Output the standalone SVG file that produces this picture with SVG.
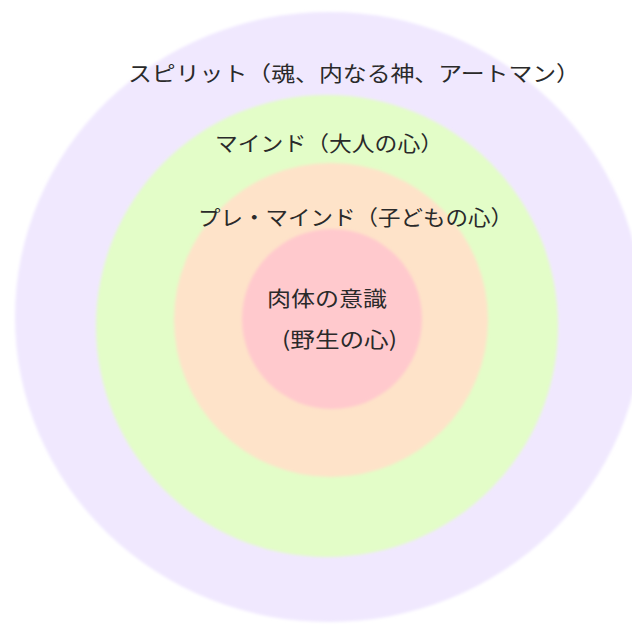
<svg xmlns="http://www.w3.org/2000/svg" width="632" height="625" viewBox="0 0 632 625">
  <defs>
    <filter id="soft" x="-5%" y="-5%" width="110%" height="110%">
      <feGaussianBlur stdDeviation="1.5"/>
    </filter>
  </defs>
  <style>
    .lbl { font-family: "Noto Sans CJK JP", "Noto Sans CJK SC", sans-serif; font-size: 21px; fill: #2a2a2a; }
  </style>
  <rect x="0" y="0" width="632" height="625" fill="#ffffff"/>
  <g id="spirit">
    <ellipse cx="329" cy="317" rx="314" ry="305" fill="#f0e8fe" filter="url(#soft)"/>
    <text class="lbl" x="128" y="81" textLength="452" lengthAdjust="spacingAndGlyphs">スピリット（魂、内なる神、アートマン）</text>
  </g>
  <g id="mind">
    <circle cx="327" cy="326" r="231" fill="#e3fdc8" filter="url(#soft)"/>
    <text class="lbl" x="215" y="151" textLength="228" lengthAdjust="spacingAndGlyphs">マインド（大人の心）</text>
  </g>
  <g id="premind">
    <circle cx="331" cy="320" r="157" fill="#fee3c9" filter="url(#soft)"/>
    <text class="lbl" x="198" y="225" textLength="315" lengthAdjust="spacingAndGlyphs">プレ・マインド（子どもの心）</text>
  </g>
  <g id="body">
    <circle cx="332" cy="319" r="90" fill="#ffc9cd" filter="url(#soft)"/>
    <text class="lbl" x="267" y="306" textLength="120" lengthAdjust="spacingAndGlyphs">肉体の意識</text>
    <text class="lbl" x="282" y="347" textLength="115" lengthAdjust="spacingAndGlyphs">(野生の心)</text>
  </g>
</svg>
